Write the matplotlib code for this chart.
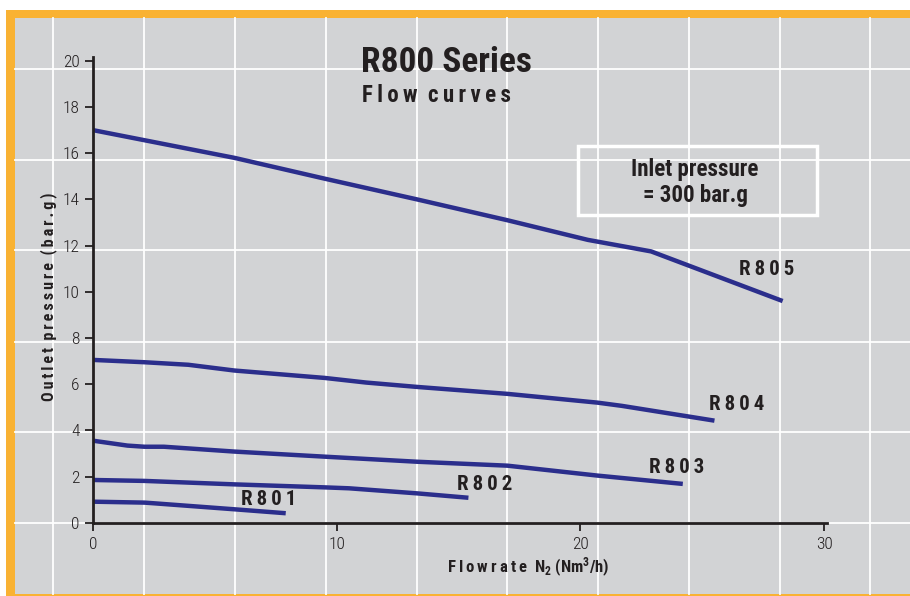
import matplotlib
matplotlib.use("Agg")
import matplotlib.pyplot as plt
from matplotlib.patches import Rectangle

# Flow curve data
r805_x = [0, 5.8, 9.5, 13.3, 17.0, 20.3, 22.9, 28.3]
r805_y = [17.0, 15.8, 14.9, 14.0, 13.1, 12.25, 11.75, 9.6]
r804_x = [0, 2.1, 3.9, 5.8, 9.5, 11.2, 13.3, 17.0, 20.7, 21.7, 25.5]
r804_y = [7.05, 6.95, 6.84, 6.59, 6.27, 6.07, 5.88, 5.58, 5.2, 5.06, 4.42]
r803_x = [0, 1.4, 2.1, 2.9, 5.8, 9.5, 13.3, 17.0, 20.7, 24.2]
r803_y = [3.55, 3.34, 3.29, 3.29, 3.08, 2.86, 2.64, 2.47, 2.04, 1.68]
r802_x = [0, 2.1, 5.8, 9.5, 10.5, 13.3, 15.4]
r802_y = [1.85, 1.81, 1.66, 1.53, 1.49, 1.27, 1.08]
r801_x = [0, 2.1, 2.5, 5.8, 7.9]
r801_y = [0.91, 0.87, 0.84, 0.58, 0.41]

labels = ["R805", "R804", "R803", "R802", "R801"]
label_x = [27.65, 26.4, 23.95, 16.05, 7.2]
label_y = [10.95, 5.1, 2.39, 1.66, 1.0]

xticks = [0, 10, 20, 30]
yticks = [0, 2, 4, 6, 8, 10, 12, 14, 16, 18, 20]

W, H = 910, 596
blue = "#2b2e8c"
grey = "#d2d3d5"
orange = "#f9b233"
ink = "#231f20"
cond = ["Roboto Condensed", "DejaVu Sans"]

plt.rcParams["mathtext.fontset"] = "custom"
plt.rcParams["mathtext.rm"] = "Roboto Condensed:bold"
plt.rcParams["mathtext.it"] = "Roboto Condensed:bold"


def spaced(s):
    # fake letter spacing with thin spaces
    return "\u2009".join(s)


fig = plt.figure(figsize=(W / 100, H / 100), dpi=100)
fig.patch.set_facecolor("white")

# background panel in pixel coordinates
bg = fig.add_axes([0, 0, 1, 1])
bg.set_xlim(0, W)
bg.set_ylim(H, 0)
bg.axis("off")
bg.add_patch(Rectangle((6, 10), W, H, color=orange, lw=0))
bg.add_patch(Rectangle((15, 18), W, 576, color=grey, lw=0))
for gx in [53, 144, 235, 326, 417, 507, 598, 689, 780, 870]:
    bg.plot([gx, gx], [18, 594], color="white", lw=1.3)
for gy in [69, 160, 250, 342, 432, 523]:
    bg.plot([15, W], [gy, gy], color="white", lw=1.3)
bg.add_patch(Rectangle((578, 146), 239, 69, fill=False, ec="white", lw=2.5))
bg.text(695, 176, "Inlet pressure", ha="center", va="baseline", fontsize=16.5,
        fontweight="bold", family=cond, color=ink)
bg.text(695, 202, "= 300 bar.g", ha="center", va="baseline", fontsize=16.5,
        fontweight="bold", family=cond, color=ink)
bg.text(361, 72, "R800 Series", ha="left", va="baseline", fontsize=25.5,
        fontweight="bold", family=cond, color=ink)
bg.text(362, 102, spaced("Flow") + "  " + spaced("curves"), ha="left", va="baseline",
        fontsize=16.5, fontweight="bold", family=cond, color=ink)

# axis titles
bg.text(49, 297, spaced("Outlet") + "  " + spaced("pressure") + "  " + spaced("(bar.g)"),
        rotation=90, ha="center", va="center", fontsize=11.5, fontweight="bold",
        family=cond, color=ink)
bg.text(528, 567, spaced("Flowrate") + "  N$_2$ (Nm$^3$/h)", ha="center", va="center",
        fontsize=12, fontweight="bold", family=cond, color=ink)

# data axes
ax = fig.add_axes([93.3 / W, (H - 522.7) / H, (827 - 93.3) / W, (522.7 - 57) / H])
ax.patch.set_alpha(0)
ax.set_xlim(0, 30.12)
ax.set_ylim(0, 20.17)

series = [(r805_x, r805_y), (r804_x, r804_y), (r803_x, r803_y),
          (r802_x, r802_y), (r801_x, r801_y)]
for (xs, ys) in series:
    ax.plot(xs, ys, color=blue, lw=3.2, solid_capstyle="butt", clip_on=False)
for name, lx, ly in zip(labels, label_x, label_y):
    ax.text(lx, ly, spaced(name), ha="center", va="center",
            fontsize=15, fontweight="bold", family=cond, color=ink)

ax.set_xticks(xticks)
ax.set_yticks(yticks)
ax.tick_params(direction="out", length=6, width=1.3, labelsize=12.5,
               labelcolor=ink, color=ink, pad=4)
for lab in ax.get_xticklabels() + ax.get_yticklabels():
    lab.set_family(cond)
    lab.set_fontweight("light")
for s in ["top", "right"]:
    ax.spines[s].set_visible(False)
for s in ["left", "bottom"]:
    ax.spines[s].set_linewidth(2)
    ax.spines[s].set_color(ink)

fig.savefig("out.png", dpi=100)
